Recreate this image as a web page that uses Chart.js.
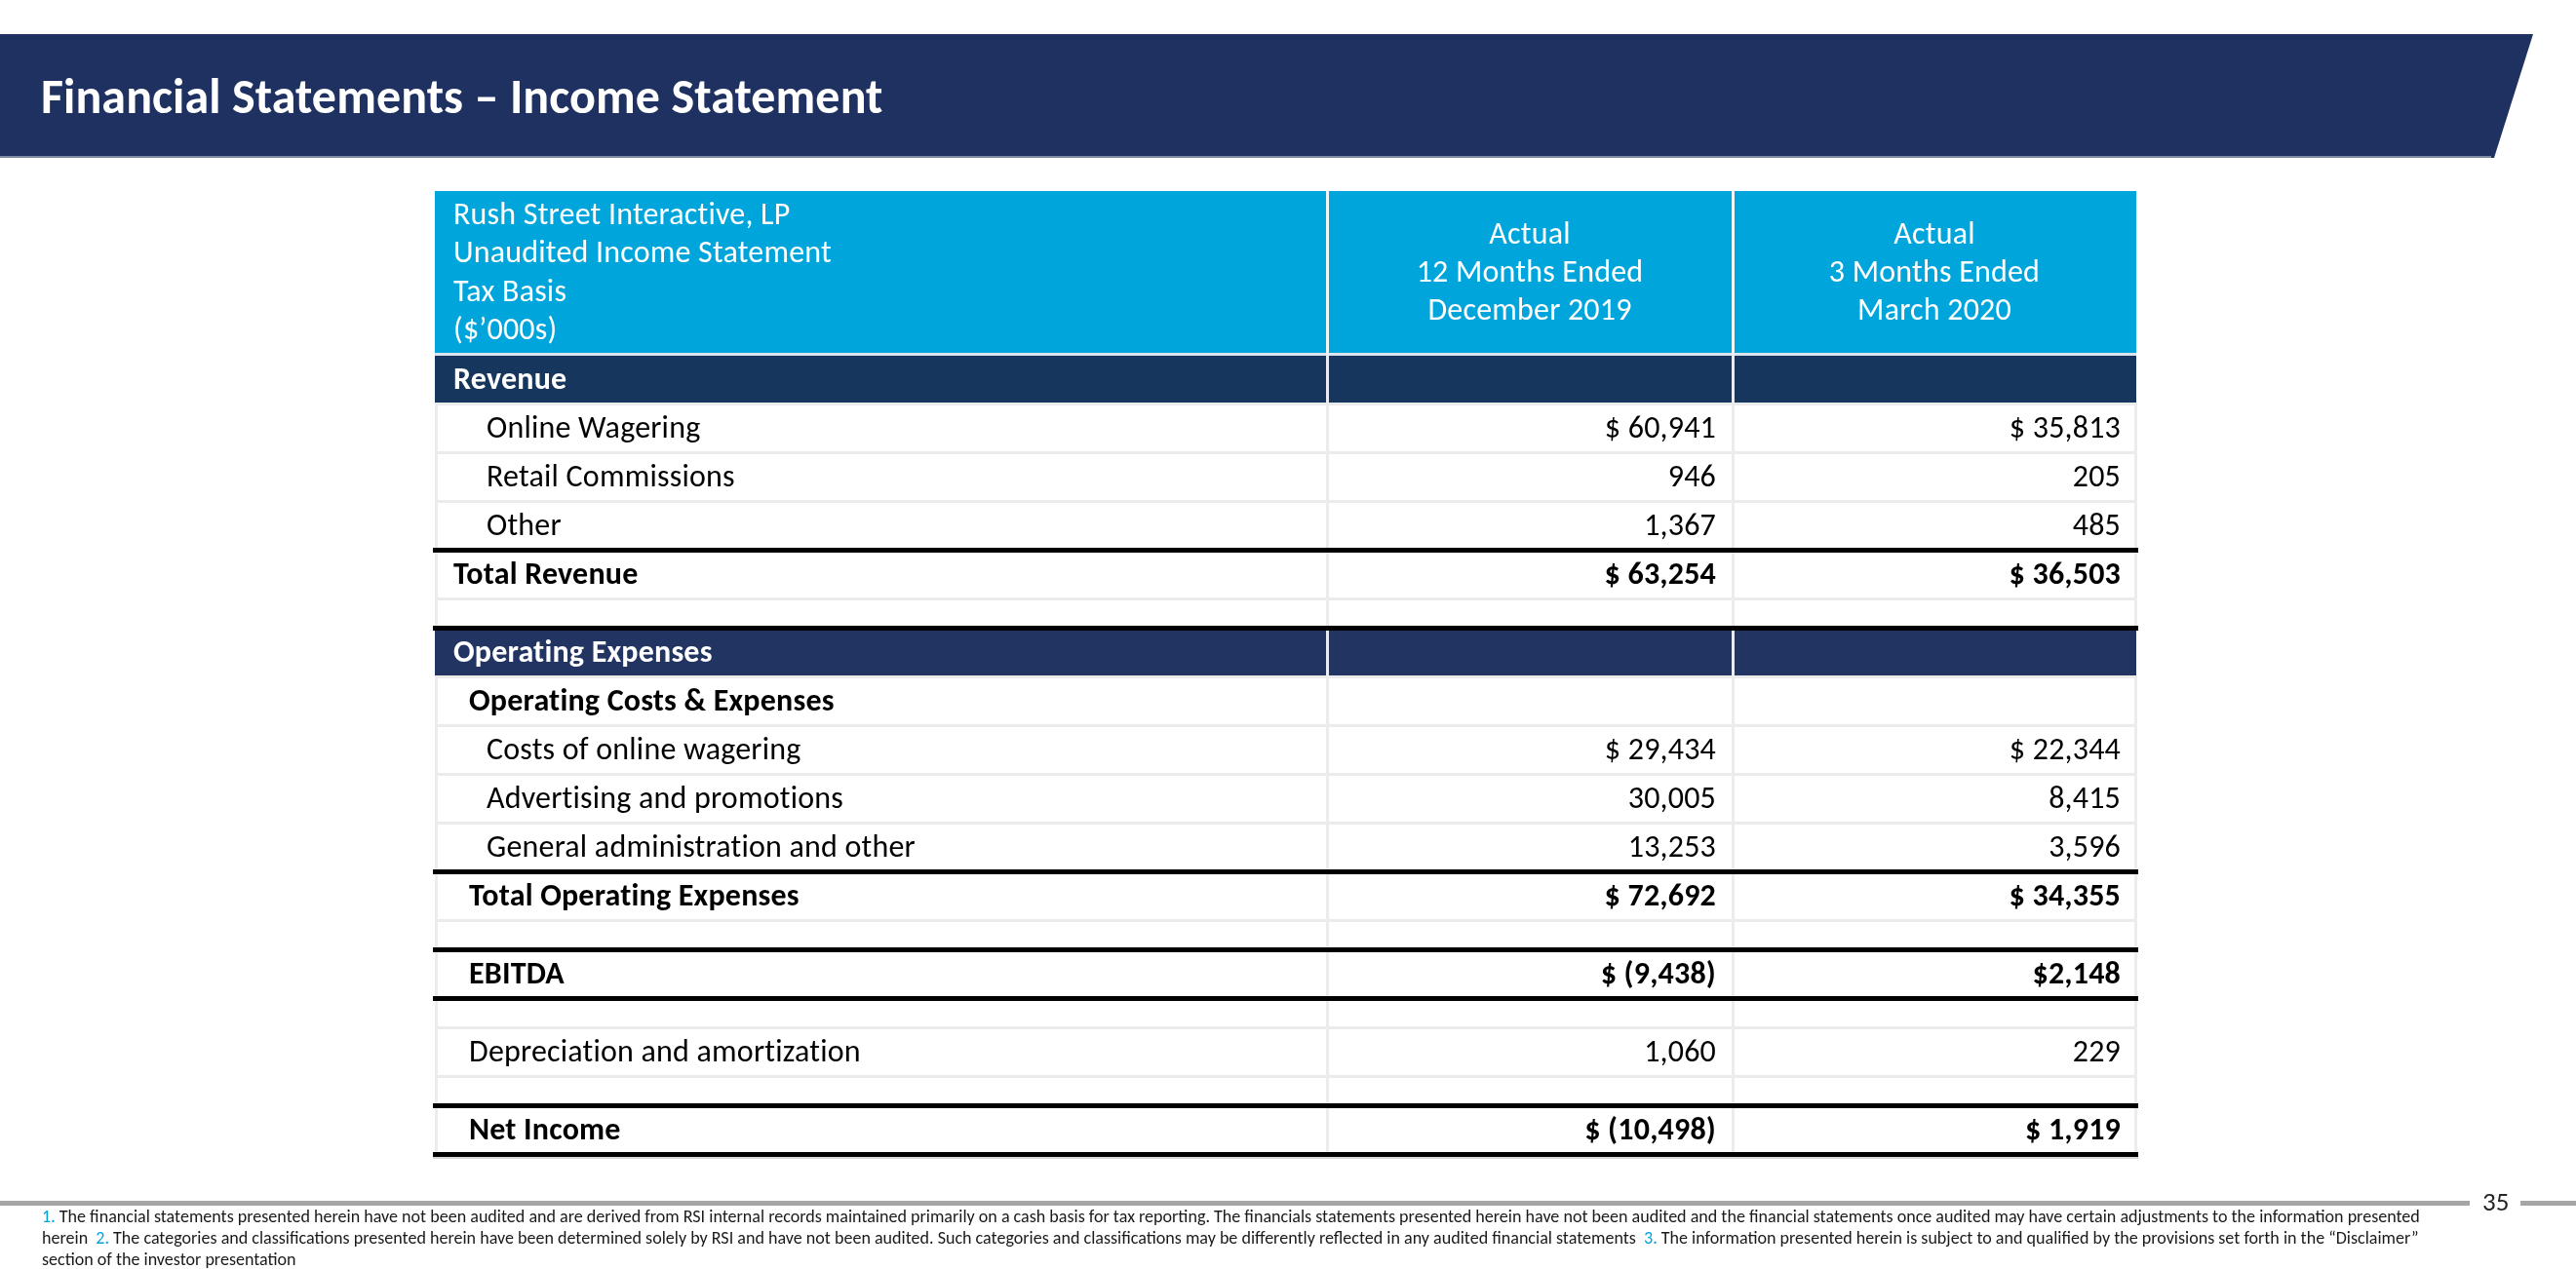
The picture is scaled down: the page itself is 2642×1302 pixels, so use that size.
<!DOCTYPE html>
<html>
<head>
<meta charset="utf-8">
<title>Financial Statements – Income Statement</title>
<script src="https://cdn.jsdelivr.net/npm/chart.js@4.4.1/dist/chart.umd.min.js"></script>
<style>
  body { margin: 0; background: #fff; }
  #page { position: relative; width: 2642px; height: 1302px; overflow: hidden; font-family: Carlito, Lato, "Open Sans", sans-serif; }
  #banner { position: absolute; left: 0; top: 35px; width: 2598px; height: 127px; background: #1f3160;
    clip-path: polygon(0 0, 2598px 0, 2558px 127px, 0 127px); }
  #bannerLine { position: absolute; left: 0; top: 160px; width: 2555px; height: 2px; background: #7d8ba3; }
  #title { position: absolute; left: 42px; top: 35px; height: 127px; display: flex; align-items: center;
    color: #fff; font-weight: bold; font-size: 50px; white-space: nowrap; letter-spacing: 0.1px; }
  #chart { position: absolute; left: 0; top: 0; }
  .rule { position: absolute; height: 5px; background: #a6a6a6; }
  #pageNo { position: absolute; left: 2546px; top: 1219px; font-size: 27px; color: #262626; line-height: 27px; }
  #foot { position: absolute; left: 43px; top: 1237px; font-size: 18px; line-height: 22px; color: #1a1a1a; white-space: nowrap; }
  #foot span.n { color: #00a3da; }
</style>
</head>
<body>
<div id="page">
  <div id="banner"></div>
  <div id="bannerLine"></div>
  <div id="title">Financial Statements – Income Statement</div>
  <canvas id="chart" width="2642" height="1302"></canvas>
  <div class="rule" style="left:0; top:1232px; width:2533px;"></div>
  <div class="rule" style="left:2585px; top:1232px; width:57px;"></div>
  <div id="pageNo">35</div>
  <div id="foot"><span id="foot1"><span class="n">1.</span> The financial statements presented herein have not been audited and are derived from RSI internal records maintained primarily on a cash basis for tax reporting. The financials statements presented herein have not been audited and the financial statements once audited may have certain adjustments to the information presented</span><br>herein&nbsp; <span class="n">2.</span> The categories and classifications presented herein have been determined solely by RSI and have not been audited. Such categories and classifications may be differently reflected in any audited financial statements&nbsp; <span class="n">3.</span> The information presented herein is subject to and qualified by the provisions set forth in the “Disclaimer”<br>section of the investor presentation</div>
</div>
<script>
// Table header text
const headerLines = ["Rush Street Interactive, LP", "Unaudited Income Statement", "Tax Basis", "($’000s)"];
const header2019 = ["Actual", "12 Months Ended", "December 2019"];
const header2020 = ["Actual", "3 Months Ended", "March 2020"];

// Row labels and row types
const rowLabels = [
  "Revenue", "Online Wagering", "Retail Commissions", "Other", "Total Revenue", "",
  "Operating Expenses", "Operating Costs & Expenses", "Costs of online wagering",
  "Advertising and promotions", "General administration and other", "Total Operating Expenses", "",
  "EBITDA", "", "Depreciation and amortization", "", "Net Income"
];
const rowKinds = [
  "section", "item", "item", "item", "total", "blank",
  "section", "subhead", "item", "item", "item", "subtotal", "blank",
  "result", "blank", "plain", "blank", "result"
];

// Values ($'000s)
const values2019 = [null, 60941, 946, 1367, 63254, null, null, null, 29434, 30005, 13253, 72692, null, -9438, null, 1060, null, -10498];
const values2020 = [null, 35813, 205, 485, 36503, null, null, null, 22344, 8415, 3596, 34355, null, 2148, null, 229, null, 1919];
const prefix2019 = ["", "$ ", "", "", "$ ", "", "", "", "$ ", "", "", "$ ", "", "$ ", "", "", "", "$ "];
const prefix2020 = ["", "$ ", "", "", "$ ", "", "", "", "$ ", "", "", "$ ", "", "$", "", "", "", "$ "];

// layout
const colWidths = [915, 416, 414];
const headerH = 168;
const rowH = { blank: 30 };
const defaultRowH = 50;
const FONT = "Carlito, Lato, 'Open Sans', sans-serif";

const heights = rowKinds.map(k => rowH[k] || defaultRowH);
const totalH = headerH + heights.reduce((a, b) => a + b, 0);
const totalW = colWidths.reduce((a, b) => a + b, 0);
const colEdges = [0];
colWidths.forEach(w => colEdges.push(colEdges[colEdges.length - 1] + w));

const fmt = (v, p) => {
  if (v === null) return "";
  const s = Math.abs(v).toLocaleString("en-US");
  return p + (v < 0 ? "(" + s + ")" : s);
};

const tablePlugin = {
  id: "incomeTable",
  afterDraw(chart) {
    const ctx = chart.ctx;
    const xs = chart.scales.x;
    const ys = chart.scales.y;
    const X = v => xs.getPixelForValue(v);
    const Y = v => ys.getPixelForValue(v);
    const left = X(0), right = X(totalW);

    // row bounds
    const rows = [];
    let acc = headerH;
    heights.forEach(h => { rows.push([acc, acc + h]); acc += h; });

    ctx.save();

    // header
    ctx.fillStyle = "#00a5db";
    ctx.fillRect(left, Y(0), right - left, Y(headerH) - Y(0) - 2);
    ctx.fillStyle = "#dde3ec";
    ctx.fillRect(left, Y(headerH) - 2, right - left, 3);

    // section bands
    let secCount = 0;
    const secFill = ["#17365d", "#213462"];
    rows.forEach((r, i) => {
      if (rowKinds[i] !== "section") return;
      ctx.fillStyle = secFill[secCount++ % 2];
      ctx.fillRect(left, Y(r[0]) + 1, right - left, Y(r[1]) - Y(r[0]) - 2);
    });

    // light grid
    ctx.fillStyle = "#ebebeb";
    rows.forEach(r => ctx.fillRect(left, Y(r[1]) - 1, right - left, 3));
    rows.forEach((r, i) => {
      const band = rowKinds[i] === "section";
      ctx.fillStyle = band ? "#e8ecf2" : "#ececec";
      colEdges.forEach((e, j) => {
        let x = X(e);
        if (j === 0) x += 1;
        if (j === colEdges.length - 1) x -= 1;
        if (band && (j === 0 || j === colEdges.length - 1)) return;
        ctx.fillRect(x - 1, Y(r[0]), 3, Y(r[1]) - Y(r[0]));
      });
    });
    // header separators
    ctx.fillStyle = "#f2f6fa";
    [1, 2].forEach(j => ctx.fillRect(X(colEdges[j]) - 1, Y(0), 3, Y(headerH) - Y(0)));

    // heavy rules
    const heavy = new Set();
    rows.forEach((r, i) => {
      const k = rowKinds[i];
      if (k === "total" || k === "subtotal" || k === "result") heavy.add(r[0]);
      if (k === "result") heavy.add(r[1]);
      if (k === "section" && i > 0 && rowKinds[i - 1] === "blank") heavy.add(r[0]);
    });
    ctx.fillStyle = "#000";
    heavy.forEach(v => ctx.fillRect(left - 2, Y(v) - 2, right - left + 4, 5));
    ctx.fillStyle = "#d4d4d4";
    ctx.fillRect(left - 2, Y(totalH) + 3, right - left + 4, 2);

    // header text
    ctx.letterSpacing = "0.2px"; // keeps Lato from using its "ti" ligature
    ctx.fillStyle = "#fff";
    ctx.textBaseline = "middle";
    ctx.font = "32px " + FONT;
    const hc = (Y(0) + Y(headerH)) / 2;
    ctx.textAlign = "left";
    headerLines.forEach((t, i) => ctx.fillText(t, left + 19, hc + (i - 1.5) * 39.3 + 1));
    ctx.textAlign = "center";
    header2019.forEach((t, i) => ctx.fillText(t, (X(colEdges[1]) + X(colEdges[2])) / 2, hc + (i - 1) * 39 + 1));
    header2020.forEach((t, i) => ctx.fillText(t, (X(colEdges[2]) + X(colEdges[3])) / 2, hc + (i - 1) * 39 + 1));

    // rows text
    const indent = { section: 19, total: 19, subhead: 35, subtotal: 35, result: 35, plain: 35, item: 53 };
    rows.forEach((r, i) => {
      const k = rowKinds[i];
      if (k === "blank") return;
      const cy = (Y(r[0]) + Y(r[1])) / 2 + 2;
      const bold = k !== "item" && k !== "plain";
      ctx.font = (bold ? "bold " : "") + "32px " + FONT;
      ctx.fillStyle = k === "section" ? "#fff" : "#000";
      ctx.textAlign = "left";
      ctx.fillText(rowLabels[i], left + indent[k], cy);
      ctx.textAlign = "right";
      ctx.fillText(fmt(values2019[i], prefix2019[i]), X(colEdges[2]) - 17, cy);
      ctx.fillText(fmt(values2020[i], prefix2020[i]), X(colEdges[3]) - 16, cy);
    });

    ctx.restore();
  }
};

const chart = new Chart(document.getElementById("chart"), {
  type: "bar",
  data: { labels: rowLabels, datasets: [] },
  options: {
    responsive: false,
    animation: false,
    layout: { padding: { left: 446, top: 196, right: 2642 - 446 - totalW, bottom: 1302 - 196 - totalH } },
    plugins: { legend: { display: false }, tooltip: { enabled: false } },
    scales: {
      x: { type: "linear", min: 0, max: totalW, offset: false, display: false },
      y: { type: "linear", min: 0, max: totalH, offset: false, reverse: true, display: false }
    }
  },
  plugins: [tablePlugin]
});

// stretch the footnote so its first line spans the same width as the slide's
const foot = document.getElementById("foot");
const w1 = document.getElementById("foot1").getBoundingClientRect().width;
foot.style.fontSize = (18 * 2441 / w1).toFixed(2) + "px";
</script>
</body>
</html>
